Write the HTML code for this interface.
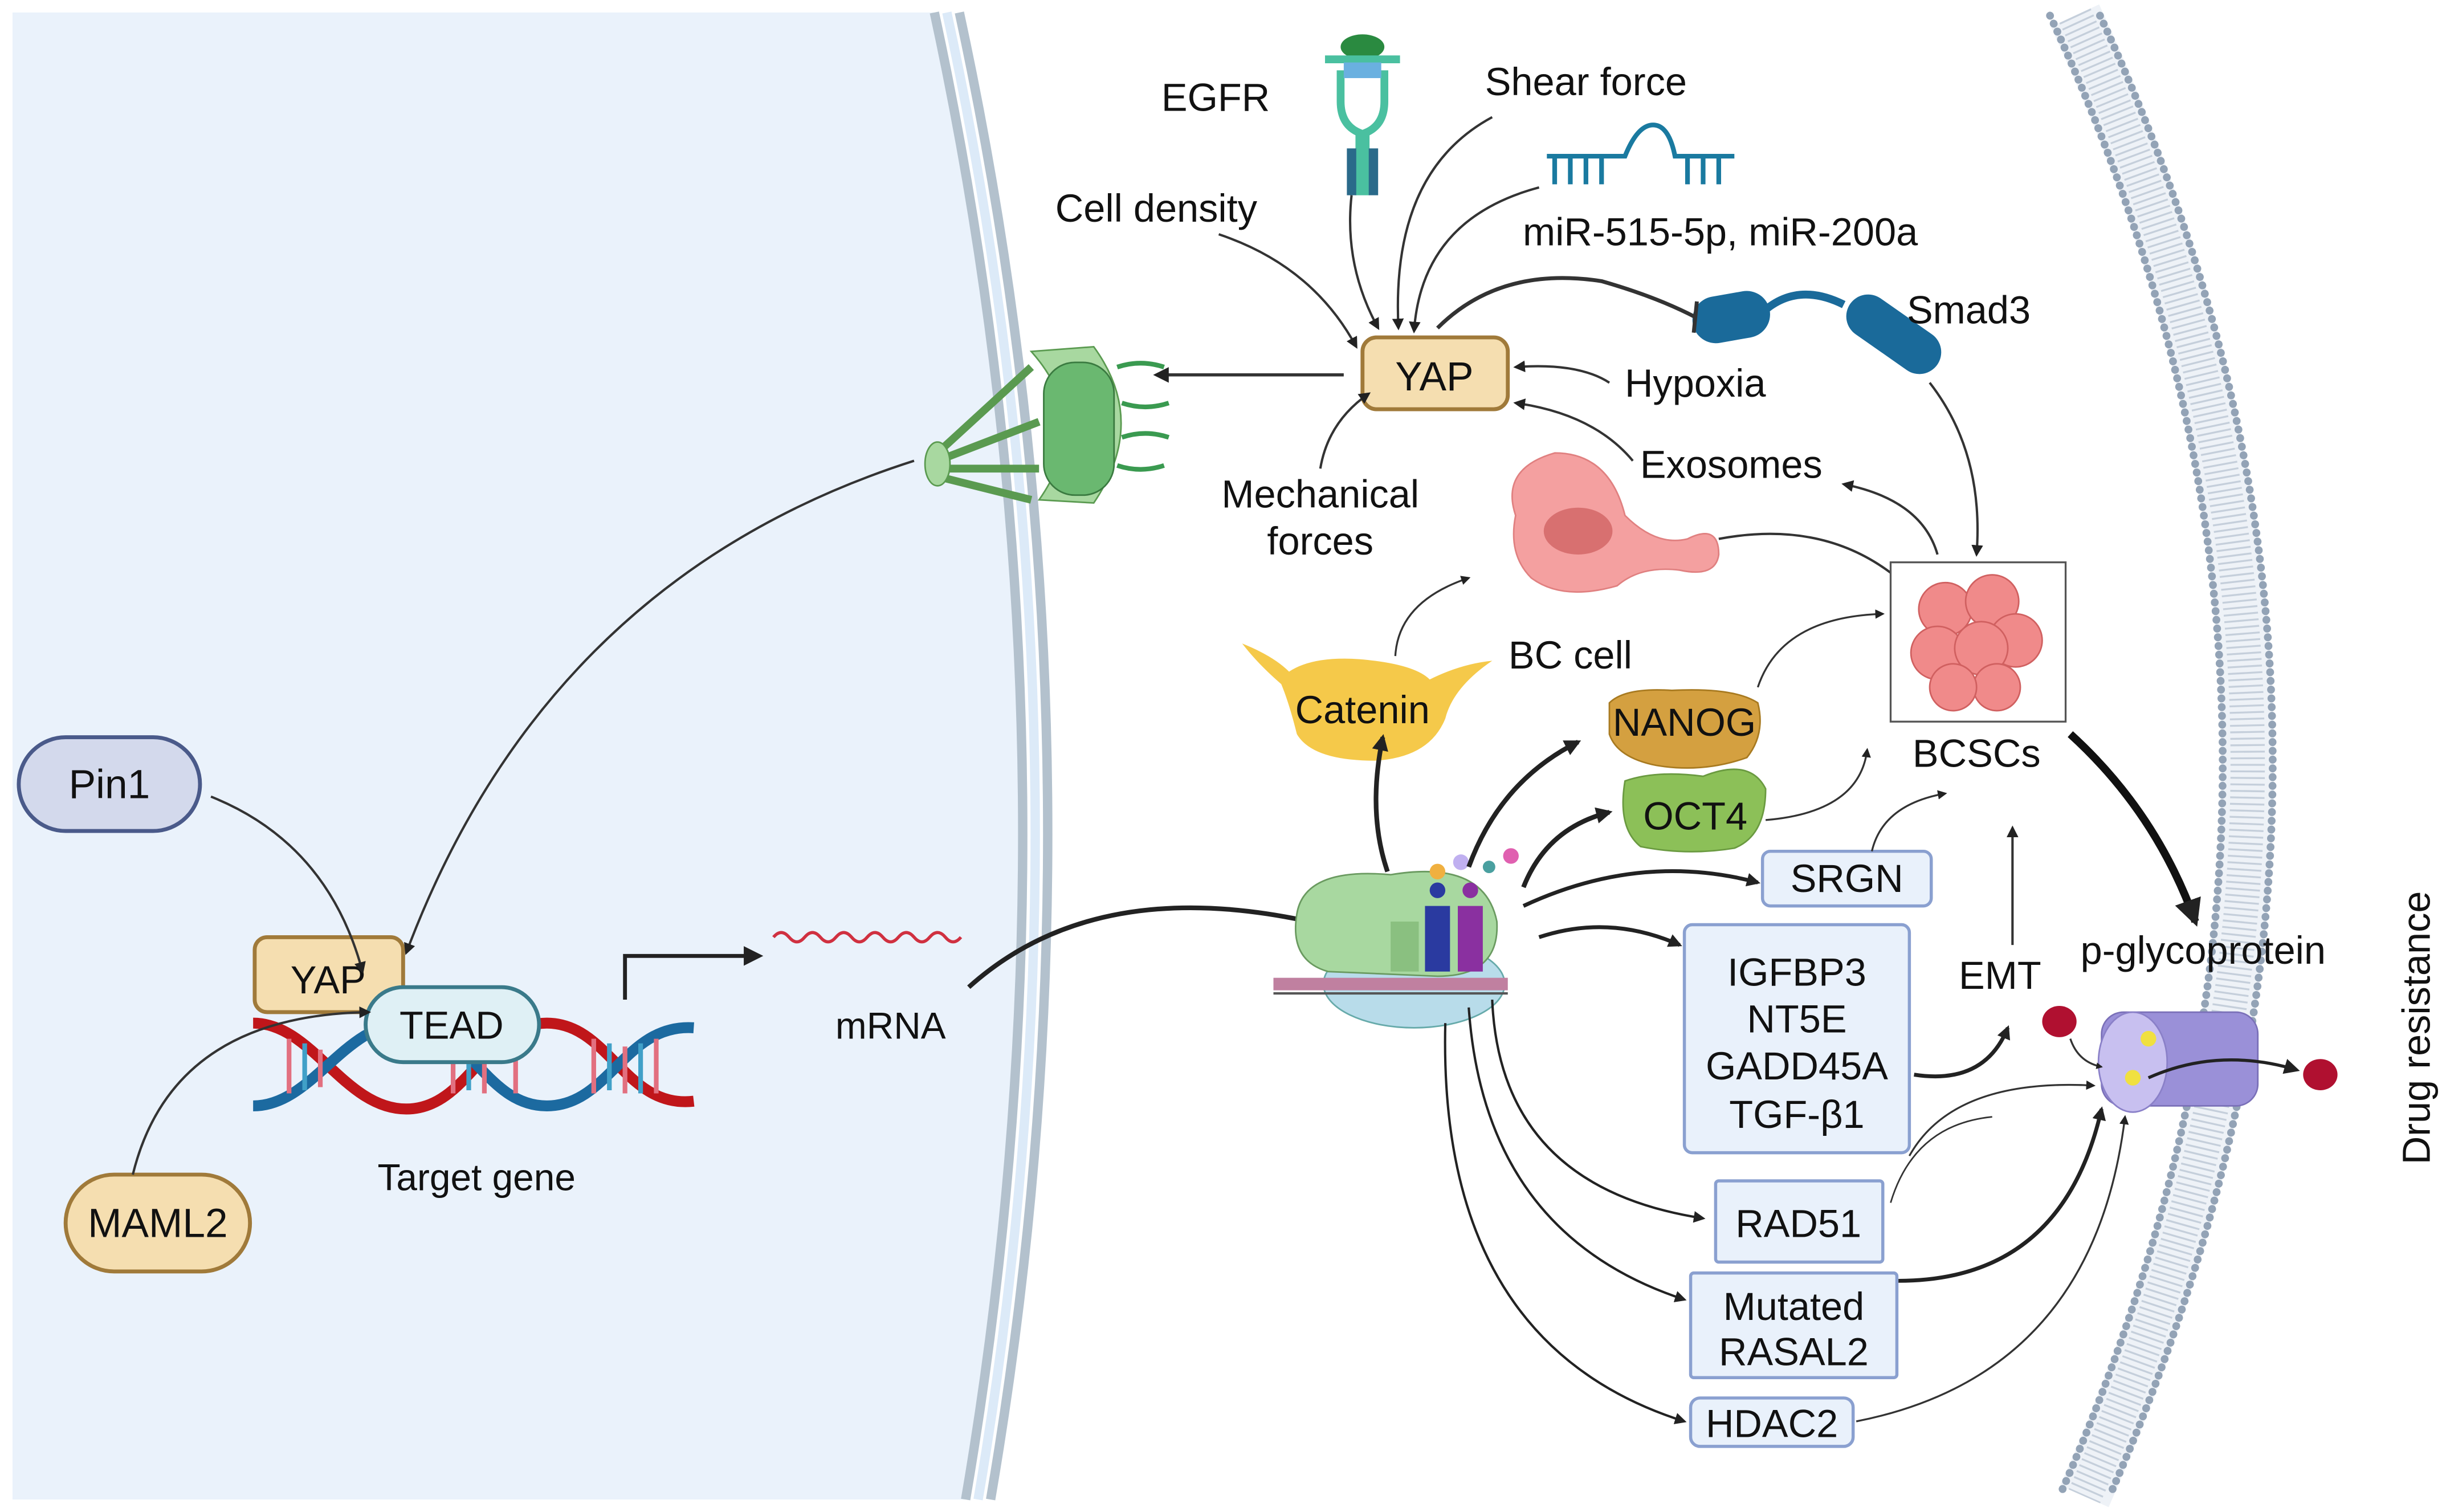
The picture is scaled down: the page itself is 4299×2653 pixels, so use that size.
<!DOCTYPE html>
<html><head><meta charset="utf-8"><style>
html,body{margin:0;padding:0;background:#fff}
svg{display:block}
text{font-family:"Liberation Sans",sans-serif;fill:#111}
</style></head><body>
<svg width="4299" height="2653" viewBox="0 0 1568 968" preserveAspectRatio="none" xmlns="http://www.w3.org/2000/svg">
<defs>
<marker id="a" viewBox="0 0 10 10" refX="8" refY="5" markerWidth="5" markerHeight="5" orient="auto"><path d="M0,0 L10,5 L0,10 z" fill="#222"/></marker>
<marker id="b" viewBox="0 0 10 10" refX="8" refY="5" markerWidth="3.5" markerHeight="3.5" orient="auto"><path d="M0,0 L10,5 L0,10 z" fill="#222"/></marker>
</defs>
<!-- cell interior -->
<path d="M8,8 L598,8 Q700,480 618,960 L8,960 Z" fill="#eaf2fb"/>
<path d="M598,8 Q700,480 618,960" fill="none" stroke="#b3c1cd" stroke-width="6"/>
<path d="M606,8 Q708,480 626,960" fill="none" stroke="#dceaf8" stroke-width="6"/>
<path d="M614,8 Q716,480 634,960" fill="none" stroke="#b3c1cd" stroke-width="6"/>
<!-- right membrane -->
<path d="M1328,10 Q1546,480 1334,958" fill="none" stroke="#eef2f7" stroke-width="34"/>
<path d="M1328,10 Q1546,480 1334,958" fill="none" stroke="#c5cfdb" stroke-width="22" stroke-dasharray="1.2 3"/>
<path d="M1312,10 Q1530,480 1318,958" fill="none" stroke="#93a3b6" stroke-width="5" stroke-dasharray="0.1 5.5" stroke-linecap="round"/>
<path d="M1344,10 Q1562,480 1350,958" fill="none" stroke="#93a3b6" stroke-width="5" stroke-dasharray="0.1 5.5" stroke-linecap="round"/>
<!-- nuclear pore -->
<g>
<path d="M660,225 Q700,270 665,320 L700,322 Q735,270 700,222 Z" fill="#a8d8a0" stroke="#5a9a50"/>
<rect x="668" y="232" width="45" height="85" rx="20" fill="#6ab870" stroke="#3a7a40"/>
<path d="M600,290 L660,235 M600,295 L665,270 M600,300 L665,300 M600,305 L660,320" stroke="#5a9a50" stroke-width="5"/>
<ellipse cx="600" cy="297" rx="8" ry="14" fill="#a8d8a0" stroke="#5a9a50"/>
<path d="M715,235 q15,-5 30,0 M718,258 q15,5 30,0 M718,280 q15,-5 30,0 M715,298 q15,5 30,0" stroke="#3a9a50" stroke-width="3" fill="none"/>
</g>
<!-- DNA -->
<g stroke-width="7" fill="none">
<path d="M162,655 C200,655 220,710 260,710 C300,710 310,655 350,655 C390,655 400,710 444,705" stroke="#c0161a"/>
<path d="M162,708 C200,708 220,655 260,655 C300,655 310,708 350,708 C390,708 400,655 444,658" stroke="#1c6aa0"/>
</g>
<g stroke-width="3">
<path d="M185,665 V700 M205,672 V696 M290,665 V700 M310,672 V700 M330,665 V700 M380,665 V700 M400,670 V700 M420,665 V700" stroke="#e27080"/>
<path d="M195,668 V698 M300,668 V698 M390,668 V698 M410,668 V700" stroke="#40a0c8"/>
</g>
<rect x="163" y="600" width="95" height="48" rx="8" fill="#f5deb0" stroke="#a07a3a" stroke-width="2.5"/>
<text x="210" y="636" font-size="25" text-anchor="middle">YAP</text>
<rect x="234" y="632" width="111" height="48" rx="24" fill="#dff0f5" stroke="#3a7a8a" stroke-width="2.5"/>
<text x="289" y="665" font-size="25" text-anchor="middle">TEAD</text>
<rect x="12" y="472" width="116" height="60" rx="30" fill="#d3d9ec" stroke="#4a5a8a" stroke-width="2.5"/>
<text x="70" y="511" font-size="26" text-anchor="middle">Pin1</text>
<rect x="42" y="752" width="118" height="62" rx="31" fill="#f5deb0" stroke="#a07a3a" stroke-width="2.5"/>
<text x="101" y="792" font-size="26" text-anchor="middle">MAML2</text>
<text x="305" y="762" font-size="24" text-anchor="middle">Target gene</text>
<path d="M400,640 V612 H486" fill="none" stroke="#222" stroke-width="2.5" marker-end="url(#a)"/>
<path d="M495,600 q5,-6 10,0 q5,6 10,0 q5,-6 10,0 q5,6 10,0 q5,-6 10,0 q5,6 10,0 q5,-6 10,0 q5,6 10,0 q5,-6 10,0 q5,6 10,0 q5,-6 10,0 q5,6 10,0" fill="none" stroke="#d03040" stroke-width="2"/>
<text x="570" y="665" font-size="24" text-anchor="middle">mRNA</text>
<!-- left arrows -->
<path d="M135,510 Q210,540 232,622" fill="none" stroke="#333" stroke-width="1.5" marker-end="url(#a)"/>
<path d="M85,752 Q110,650 236,648" fill="none" stroke="#333" stroke-width="1.5" marker-end="url(#a)"/>
<path d="M585,295 Q350,370 260,610" fill="none" stroke="#333" stroke-width="1.5" marker-end="url(#a)"/>
<path d="M620,632 Q700,560 838,590" fill="none" stroke="#222" stroke-width="3" marker-end="url(#b)"/>
<path d="M860,240 H740" fill="none" stroke="#333" stroke-width="2" marker-end="url(#a)"/>
<!-- ribosome -->
<ellipse cx="905" cy="630" rx="58" ry="28" fill="#b8dcea" stroke="#6aa"/>
<path d="M830,585 Q835,555 890,560 Q950,550 958,590 Q960,625 920,625 L850,622 Q825,615 830,585Z" fill="#a8d8a0" stroke="#6a9a60"/>
<rect x="890" y="590" width="18" height="32" fill="#8ac080"/>
<rect x="912" y="580" width="16" height="42" fill="#2a3aa0"/>
<rect x="933" y="580" width="16" height="42" fill="#8a30a0"/>
<circle cx="920" cy="570" r="5" fill="#2a3aa0"/><circle cx="941" cy="570" r="5" fill="#8a30a0"/>
<circle cx="920" cy="558" r="5" fill="#f0b040"/><circle cx="935" cy="552" r="5" fill="#c0b0f0"/><circle cx="953" cy="555" r="4" fill="#4aa0a0"/><circle cx="967" cy="548" r="5" fill="#e060b0"/>
<rect x="815" y="626" width="150" height="8" fill="#c080a0"/><line x1="815" y1="636" x2="965" y2="636" stroke="#555" stroke-width="1.5"/>
<!-- YAP top -->
<rect x="872" y="216" width="93" height="46" rx="9" fill="#f5deb0" stroke="#a07a3a" stroke-width="2.5"/>
<text x="918" y="250" font-size="26" text-anchor="middle">YAP</text>
<text x="778" y="71" font-size="25" text-anchor="middle">EGFR</text>
<g><ellipse cx="872" cy="30" rx="14" ry="8" fill="#2a8a40"/><path d="M848,38 h48 M858,45 v20 q0,15 12,20 v40 M886,45 v20 q0,15 -12,20 v40" stroke="#4ac0a0" stroke-width="5" fill="none"/><rect x="860" y="40" width="24" height="10" fill="#6ab0e0"/><rect x="862" y="95" width="6" height="30" fill="#2a6a8a"/><rect x="876" y="95" width="6" height="30" fill="#2a6a8a"/></g>
<text x="1015" y="61" font-size="25" text-anchor="middle">Shear force</text>
<g stroke="#1a7aa0" stroke-width="3" fill="none"><path d="M990,100 H1040 Q1048,80 1058,80 Q1068,80 1072,100 H1110"/><path d="M995,100v18 M1005,100v18 M1015,100v18 M1025,100v18 M1080,100v18 M1090,100v18 M1100,100v18"/></g>
<text x="1101" y="157" font-size="25" text-anchor="middle">miR-515-5p, miR-200a</text>
<text x="740" y="142" font-size="25" text-anchor="middle">Cell density</text>
<g><rect x="1083" y="188" width="50" height="30" rx="15" fill="#1a6a9a" transform="rotate(-10 1108 203)"/><path d="M1128,200 Q1150,180 1180,195" stroke="#1a6a9a" stroke-width="5" fill="none"/><rect x="1178" y="200" width="68" height="28" rx="14" fill="#1a6a9a" transform="rotate(35 1212 214)"/></g>
<text x="1260" y="207" font-size="25" text-anchor="middle">Smad3</text>
<text x="1085" y="254" font-size="25" text-anchor="middle">Hypoxia</text>
<text x="1108" y="306" font-size="25" text-anchor="middle">Exosomes</text>
<text x="845" y="325" font-size="25" text-anchor="middle">Mechanical</text>
<text x="845" y="355" font-size="25" text-anchor="middle">forces</text>
<!-- YAP arrows -->
<path d="M780,150 Q840,170 868,222" fill="none" stroke="#333" stroke-width="1.5" marker-end="url(#a)"/>
<path d="M865,125 Q860,170 882,210" fill="none" stroke="#333" stroke-width="1.5" marker-end="url(#a)"/>
<path d="M955,75 Q890,110 895,210" fill="none" stroke="#333" stroke-width="1.5" marker-end="url(#a)"/>
<path d="M985,120 Q910,140 905,212" fill="none" stroke="#333" stroke-width="1.5" marker-end="url(#a)"/>
<path d="M920,210 Q960,170 1025,180 Q1060,190 1085,203" fill="none" stroke="#333" stroke-width="2.5"/>
<path d="M1086,193 L1084,213" stroke="#333" stroke-width="2.5"/>
<path d="M1030,245 Q1010,232 970,235" fill="none" stroke="#333" stroke-width="1.5" marker-end="url(#a)"/>
<path d="M1045,295 Q1020,265 970,258" fill="none" stroke="#333" stroke-width="1.5" marker-end="url(#a)"/>
<path d="M845,300 Q850,270 876,252" fill="none" stroke="#333" stroke-width="1.5" marker-end="url(#a)"/>
<path d="M1235,245 Q1270,290 1265,355" fill="none" stroke="#333" stroke-width="1.5" marker-end="url(#a)"/>
<path d="M1240,355 Q1230,320 1180,310" fill="none" stroke="#333" stroke-width="1.5" marker-end="url(#a)"/>
<!-- BC cell -->
<path d="M970,330 Q960,300 995,290 Q1030,290 1040,330 Q1060,350 1080,345 Q1100,335 1100,355 Q1098,370 1075,365 Q1050,362 1035,375 Q1000,385 980,370 Q965,355 970,330Z" fill="#f4a0a0" stroke="#e08080"/>
<ellipse cx="1010" cy="340" rx="22" ry="15" fill="#d87070"/>
<text x="1005" y="428" font-size="25" text-anchor="middle">BC cell</text>
<path d="M1100,345 Q1180,330 1230,385" fill="none" stroke="#333" stroke-width="1.5" marker-end="url(#a)"/>
<!-- BCSCs -->
<rect x="1210" y="360" width="112" height="102" fill="#fff" stroke="#555" stroke-width="1.2"/>
<g fill="#f08a8a" stroke="#d06060"><circle cx="1245" cy="390" r="17"/><circle cx="1275" cy="385" r="17"/><circle cx="1290" cy="410" r="17"/><circle cx="1240" cy="418" r="17"/><circle cx="1268" cy="415" r="17"/><circle cx="1278" cy="440" r="15"/><circle cx="1250" cy="440" r="15"/></g>
<text x="1265" y="491" font-size="25" text-anchor="middle">BCSCs</text>
<!-- Catenin -->
<path d="M795,412 Q815,420 825,430 Q840,420 870,422 Q905,425 915,435 Q935,425 955,423 Q930,440 925,460 Q915,485 880,487 Q840,487 830,470 Q825,450 820,438 Q805,425 795,412Z" fill="#f5c94a"/>
<text x="872" y="463" font-size="25" text-anchor="middle">Catenin</text>
<path d="M1030,450 Q1040,440 1070,442 Q1110,440 1125,450 Q1130,470 1118,485 Q1090,495 1060,490 Q1035,485 1030,470Z" fill="#d4a040" stroke="#a87a20"/>
<text x="1078" y="471" font-size="25" text-anchor="middle">NANOG</text>
<path d="M1040,500 Q1060,493 1090,497 Q1120,485 1130,505 Q1130,535 1110,543 Q1080,548 1050,542 Q1035,530 1040,500Z" fill="#8cc058" stroke="#6a9a40"/>
<text x="1085" y="531" font-size="25" text-anchor="middle">OCT4</text>
<g fill="#e9f1fb" stroke="#8aa0d0" stroke-width="2">
<rect x="1128" y="545" width="108" height="35" rx="5"/>
<rect x="1078" y="592" width="144" height="146" rx="5"/>
<rect x="1098" y="756" width="107" height="52" rx="2"/>
<rect x="1082" y="815" width="132" height="67" rx="2"/>
<rect x="1082" y="895" width="104" height="31" rx="6"/>
</g>
<text x="1182" y="571" font-size="25" text-anchor="middle">SRGN</text>
<g font-size="25" text-anchor="middle"><text x="1150" y="631">IGFBP3</text><text x="1150" y="661">NT5E</text><text x="1150" y="691">GADD45A</text><text x="1150" y="722">TGF-β1</text>
<text x="1151" y="792">RAD51</text><text x="1148" y="845">Mutated</text><text x="1148" y="874">RASAL2</text><text x="1134" y="920">HDAC2</text></g>
<text x="1280" y="633" font-size="25" text-anchor="middle">EMT</text>
<text x="1410" y="617" font-size="25" text-anchor="middle">p-glycoprotein</text>
<!-- pgp -->
<g><rect x="1345" y="648" width="100" height="60" rx="14" fill="#9a90d8" stroke="#7a70b8"/><ellipse cx="1365" cy="680" rx="22" ry="32" fill="#c8c0f0" stroke="#8a80c8"/><circle cx="1375" cy="665" r="5" fill="#f0e040"/><circle cx="1365" cy="690" r="5" fill="#f0e040"/></g>
<ellipse cx="1318" cy="654" rx="11" ry="10" fill="#b01030"/>
<ellipse cx="1485" cy="688" rx="11" ry="10" fill="#b01030"/>
<path d="M1325,665 Q1330,680 1345,683" fill="none" stroke="#333" stroke-width="1.2" marker-end="url(#b)"/>
<path d="M1375,690 Q1420,670 1470,685" fill="none" stroke="#222" stroke-width="2" marker-end="url(#a)"/>
<text transform="translate(1555,658) rotate(-90)" font-size="25" text-anchor="middle">Drug resistance</text>
<!-- ribosome arrows -->
<path d="M888,558 Q875,520 885,472" fill="none" stroke="#222" stroke-width="3" marker-end="url(#b)"/>
<path d="M893,420 Q895,385 940,370" fill="none" stroke="#333" stroke-width="1.2" marker-end="url(#a)"/>
<path d="M940,555 Q960,500 1010,475" fill="none" stroke="#222" stroke-width="3" marker-end="url(#b)"/>
<path d="M975,568 Q990,530 1030,520" fill="none" stroke="#222" stroke-width="3" marker-end="url(#b)"/>
<path d="M975,580 Q1050,545 1125,565" fill="none" stroke="#222" stroke-width="2.5" marker-end="url(#b)"/>
<path d="M985,600 Q1030,585 1075,605" fill="none" stroke="#222" stroke-width="2.5" marker-end="url(#b)"/>
<path d="M955,640 Q960,760 1090,780" fill="none" stroke="#222" stroke-width="1.5" marker-end="url(#a)"/>
<path d="M940,645 Q950,790 1078,832" fill="none" stroke="#222" stroke-width="1.5" marker-end="url(#a)"/>
<path d="M925,655 Q920,860 1078,910" fill="none" stroke="#222" stroke-width="1.5" marker-end="url(#a)"/>
<path d="M1125,440 Q1140,395 1205,393" fill="none" stroke="#333" stroke-width="1.2" marker-end="url(#a)"/>
<path d="M1130,525 Q1190,520 1195,480" fill="none" stroke="#333" stroke-width="1.2" marker-end="url(#a)"/>
<path d="M1198,545 Q1205,515 1245,508" fill="none" stroke="#333" stroke-width="1.2" marker-end="url(#a)"/>
<path d="M1288,605 V530" fill="none" stroke="#333" stroke-width="1.5" marker-end="url(#a)"/>
<path d="M1225,688 Q1270,695 1285,658" fill="none" stroke="#222" stroke-width="2.5" marker-end="url(#b)"/>
<path d="M1222,740 Q1250,690 1340,695" fill="none" stroke="#333" stroke-width="1.2" marker-end="url(#a)"/>
<path d="M1215,820 Q1320,820 1345,710" fill="none" stroke="#222" stroke-width="2.5" marker-end="url(#b)"/>
<path d="M1188,910 Q1340,880 1360,715" fill="none" stroke="#333" stroke-width="1.2" marker-end="url(#a)"/>
<path d="M1210,770 Q1225,720 1275,715" fill="none" stroke="#333" stroke-width="1" />
<path d="M1325,470 Q1380,520 1405,590" fill="none" stroke="#111" stroke-width="5" marker-end="url(#b)"/>
</svg>
</body></html>
